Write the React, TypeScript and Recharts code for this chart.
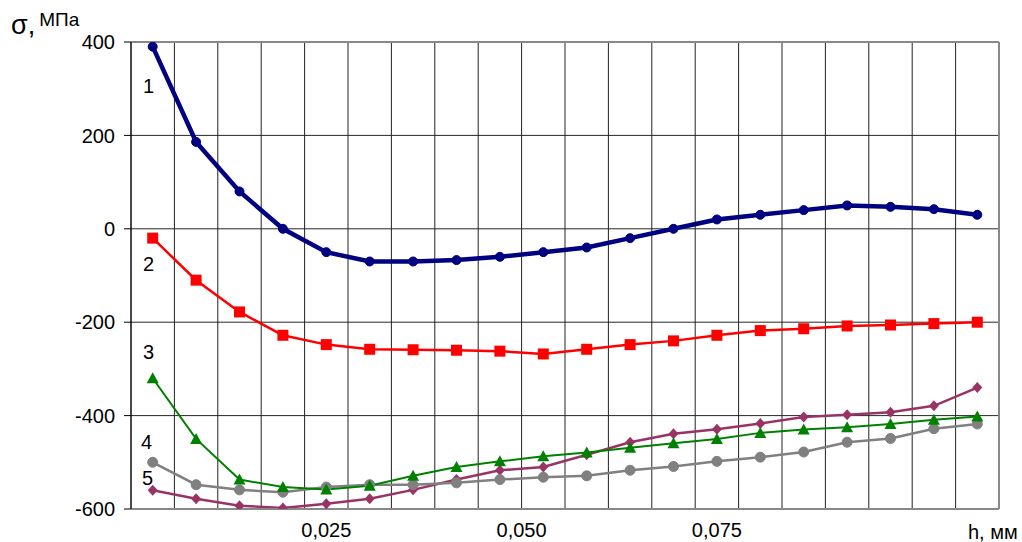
import React from "react"
import { LineChart, Line, XAxis, YAxis, CartesianGrid, ReferenceLine } from "recharts"

// h, mm (category centres)
const hValues = [0.005, 0.01, 0.015, 0.02, 0.025, 0.03, 0.035, 0.04, 0.045, 0.05, 0.055, 0.06, 0.065, 0.07, 0.075, 0.08, 0.085, 0.09, 0.095, 0.1]

// sigma, MPa
const curve1 = [390, 186, 80, 0, -50, -70, -70, -67, -60, -50, -40, -20, 0, 20, 30, 40, 50, 47, 42, 30]
const curve2 = [-20, -110, -178, -228, -248, -258, -259, -260, -262, -268, -258, -248, -240, -228, -218, -214, -208, -206, -203, -200]
const curve3 = [-320, -450, -537, -553, -558, -550, -529, -510, -498, -487, -479, -469, -459, -450, -437, -430, -425, -418, -409, -402]
const curve4 = [-500, -548, -559, -564, -553, -548, -548, -544, -537, -532, -529, -517, -509, -498, -489, -478, -457, -449, -428, -418]
const curve5 = [-560, -578, -593, -598, -589, -578, -559, -537, -517, -510, -484, -457, -439, -429, -417, -403, -398, -393, -379, -340]

const yTicks = [-600, -400, -200, 0, 200, 400]
const xTickValues = [0.025, 0.0475, 0.07]
const xTickLabels = ["0,025", "0,050", "0,075"]

const data = hValues.map((h, i) => ({
  h,
  s1: curve1[i],
  s2: curve2[i],
  s3: curve3[i],
  s4: curve4[i],
  s5: curve5[i],
}))

const halfStep = 0.0025
const gridBounds = [hValues[0] - halfStep, ...hValues.map((h) => h + halfStep)]

const font = "'Liberation Sans', Arial, sans-serif"

const circleDot = (r: number, color: string) => (p: any) => (
  <circle key={p.index} cx={p.cx} cy={p.cy} r={r} fill={color} stroke={color} />
)

const squareDot = (p: any) => (
  <rect key={p.index} x={p.cx - 5.5} y={p.cy - 5.5} width={11} height={11} fill="#ff0000" />
)

const triangleDot = (p: any) => (
  <polygon
    key={p.index}
    points={`${p.cx},${p.cy - 6} ${p.cx - 6},${p.cy + 5} ${p.cx + 6},${p.cy + 5}`}
    fill="#008000"
  />
)

const diamondDot = (p: any) => (
  <polygon
    key={p.index}
    points={`${p.cx},${p.cy - 5.5} ${p.cx + 5},${p.cy} ${p.cx},${p.cy + 5.5} ${p.cx - 5},${p.cy}`}
    fill="#993366"
  />
)

const labelStyle: React.CSSProperties = {
  position: "absolute",
  fontFamily: font,
  fontSize: 20,
  lineHeight: "20px",
  color: "#000",
}

export default function App() {
  return (
    <div style={{ position: "relative", width: 1022, height: 542, background: "#fff" }}>
      <style>{`body{margin:0}`}</style>
      <LineChart width={1022} height={542} data={data} margin={{ top: 42, right: 23, left: 0, bottom: 0 }}>
        <CartesianGrid vertical={false} stroke="#000" strokeOpacity={0.85} />
        {gridBounds.map((b) => (
          <ReferenceLine key={b} x={b} stroke="#222" strokeWidth={1} />
        ))}
        <ReferenceLine y={400} stroke="#888" strokeWidth={2} />
        <ReferenceLine x={gridBounds[gridBounds.length - 1]} stroke="#888" strokeWidth={2} />
        <XAxis
          dataKey="h"
          type="number"
          domain={[gridBounds[0], gridBounds[gridBounds.length - 1]]}
          allowDataOverflow
          ticks={xTickValues}
          tickFormatter={(v: number) => xTickLabels[xTickValues.indexOf(v)] ?? ""}
          tickLine={false}
          tickMargin={8}
          axisLine={{ stroke: "#888", strokeWidth: 2 }}
          tick={{ fontSize: 20, fill: "#000", fontFamily: font }}
          height={33}
        />
        <YAxis
          domain={[-600, 400]}
          ticks={yTicks}
          allowDataOverflow
          width={131}
          tickSize={7}
          tickMargin={9}
          axisLine={{ stroke: "#000" }}
          tickLine={{ stroke: "#000" }}
          tick={{ fontSize: 20, fill: "#000", fontFamily: font }}
        />
        <Line dataKey="s5" stroke="#993366" strokeWidth={2.5} dot={diamondDot} isAnimationActive={false} />
        <Line dataKey="s4" stroke="#808080" strokeWidth={2.5} dot={circleDot(5, "#808080")} isAnimationActive={false} />
        <Line dataKey="s3" stroke="#008000" strokeWidth={2} dot={triangleDot} isAnimationActive={false} />
        <Line dataKey="s2" stroke="#ff0000" strokeWidth={2.5} dot={squareDot} isAnimationActive={false} />
        <Line dataKey="s1" stroke="#000080" strokeWidth={4.5} dot={circleDot(4.5, "#000080")} isAnimationActive={false} />
      </LineChart>

      <div style={{ position: "absolute", left: 11, top: 10, fontFamily: font, color: "#000", whiteSpace: "nowrap" }}>
        <span style={{ fontSize: 27 }}>σ,</span>
        <span style={{ fontSize: 19, position: "relative", top: -8, marginLeft: 4 }}>МПа</span>
      </div>
      <div style={{ ...labelStyle, left: 968, top: 522 }}>h, мм</div>

      <div style={{ ...labelStyle, left: 143, top: 76 }}>1</div>
      <div style={{ ...labelStyle, left: 143, top: 254 }}>2</div>
      <div style={{ ...labelStyle, left: 143, top: 342 }}>3</div>
      <div style={{ ...labelStyle, left: 141, top: 432 }}>4</div>
      <div style={{ ...labelStyle, left: 142, top: 468 }}>5</div>
    </div>
  )
}
